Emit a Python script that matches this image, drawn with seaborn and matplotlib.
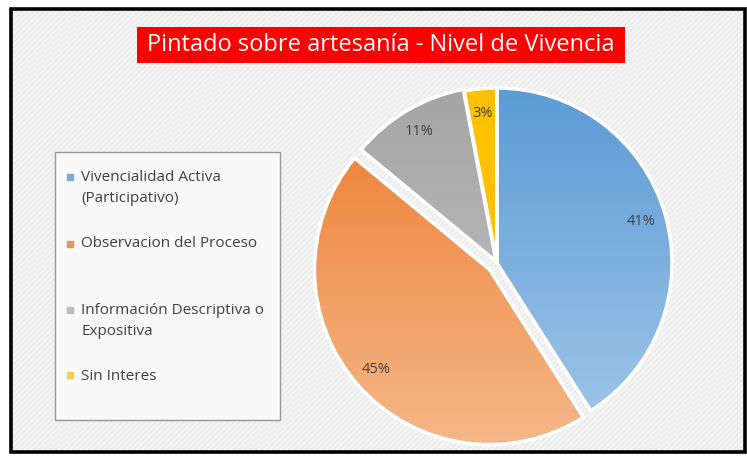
import matplotlib
matplotlib.use("Agg")
import matplotlib.pyplot as plt
import seaborn as sns
import numpy as np
from matplotlib.patches import Rectangle
from matplotlib.lines import Line2D
from matplotlib.colors import LinearSegmentedColormap
from matplotlib.legend_handler import HandlerLine2D

sns.set_style("white")
plt.rcParams['font.family'] = ['Open Sans', 'DejaVu Sans']
plt.rcParams['hatch.linewidth'] = 0.6

# Data
categories = ['Vivencialidad Activa\n(Participativo)', 'Observacion del Proceso',
              'Información Descriptiva o\nExpositiva', 'Sin Interes']
values = [41, 45, 11, 3]
title = "Pintado sobre artesanía - Nivel de Vivencia"

# Styles (top colour, bottom colour of the gradient)
grad_colors = [('#5b9bd5', '#a2c6e8'), ('#ed7d31', '#f5b789'),
               ('#a5a5a5', '#c4c4c4'), ('#ffc000', '#ffc000')]
legend_colors = ['#7fa9d0', '#e3966a', '#bdbdbd', '#f3cf5a']
explode = [0, 10, 2, 0]   # pixels


class FirstLineHandler(HandlerLine2D):
    # put the legend marker next to the first line of a two-line label
    def create_artists(self, legend, orig_handle, xdescent, ydescent, width, height,
                       fontsize, trans):
        return super().create_artists(legend, orig_handle, xdescent, ydescent - 15.5,
                                      width, height, fontsize, trans)


W, H = 747, 457
fig = plt.figure(figsize=(W / 100, H / 100), dpi=100)
fig.patch.set_facecolor('white')
ax = fig.add_axes([0, 0, 1, 1])

# Chart background with fine texture
ax.add_patch(Rectangle((11, 5), 734, 443, facecolor='#f3f3f3', edgecolor='#e6e6e6',
                       hatch='//////', linewidth=0, zorder=0))
ax.add_patch(Rectangle((11, 5), 734, 443, facecolor='none', edgecolor='black',
                       linewidth=2.6, zorder=10))

# Title box
ax.add_patch(Rectangle((137, H - 63), 488, 36, facecolor='#ff0000', edgecolor='none', zorder=5))
ax.text(381, H - 45, title, color='white', fontsize=17, ha='center', va='center', zorder=6)

# Pie
cx, cy, R = 497, H - 263, 175
wedges, texts, autotexts = ax.pie(values, explode=explode, startangle=90, counterclock=False,
                                  center=(cx, cy), radius=R, autopct='%1.0f%%',
                                  pctdistance=0.86, frame=True,
                                  wedgeprops=dict(edgecolor='white', linewidth=2.5),
                                  textprops=dict(color='#404040', fontsize=10.5))

grad = np.linspace(0, 1, 256).reshape(-1, 1)
for w, (c_top, c_bot) in zip(wedges, grad_colors):
    cmap = LinearSegmentedColormap.from_list('g', [c_top, c_bot])
    wx, wy = w.center
    img = ax.imshow(grad, extent=(wx - R, wx + R, wy - R, wy + R), origin='upper',
                    cmap=cmap, aspect='auto', zorder=2)
    img.set_clip_path(w)
    w.set_facecolor('none')
    w.set_zorder(3)
for t in autotexts:
    t.set_zorder(4)

ax.set_xlim(0, W)
ax.set_ylim(0, H)
ax.set_aspect('auto')
ax.axis('off')

# Legend box
ax.add_patch(Rectangle((55, H - 420), 225, 268, facecolor='#f8f8f8', edgecolor='#9a9a9a',
                       linewidth=1, zorder=5))
handles = [Line2D([], [], marker='s', linestyle='none', markersize=5, color=c)
           for c in legend_colors]
# every entry except the last takes two lines in the reference layout
leg_labels = [c if ('\n' in c or i == len(categories) - 1) else c + '\n'
              for i, c in enumerate(categories)]
leg = ax.legend(handles, leg_labels, loc='upper left',
                bbox_to_anchor=(59 / W, 1 - 162 / H), frameon=False,
                fontsize=11, labelspacing=2.0, handlelength=0.5, handletextpad=0.45,
                borderpad=0, handler_map={h: FirstLineHandler() for h in handles[:-1]})
leg.set_zorder(6)
for t in leg.get_texts():
    t.set_color('#404040')
    t.set_linespacing(1.55)

fig.savefig('out.png', dpi=100)
